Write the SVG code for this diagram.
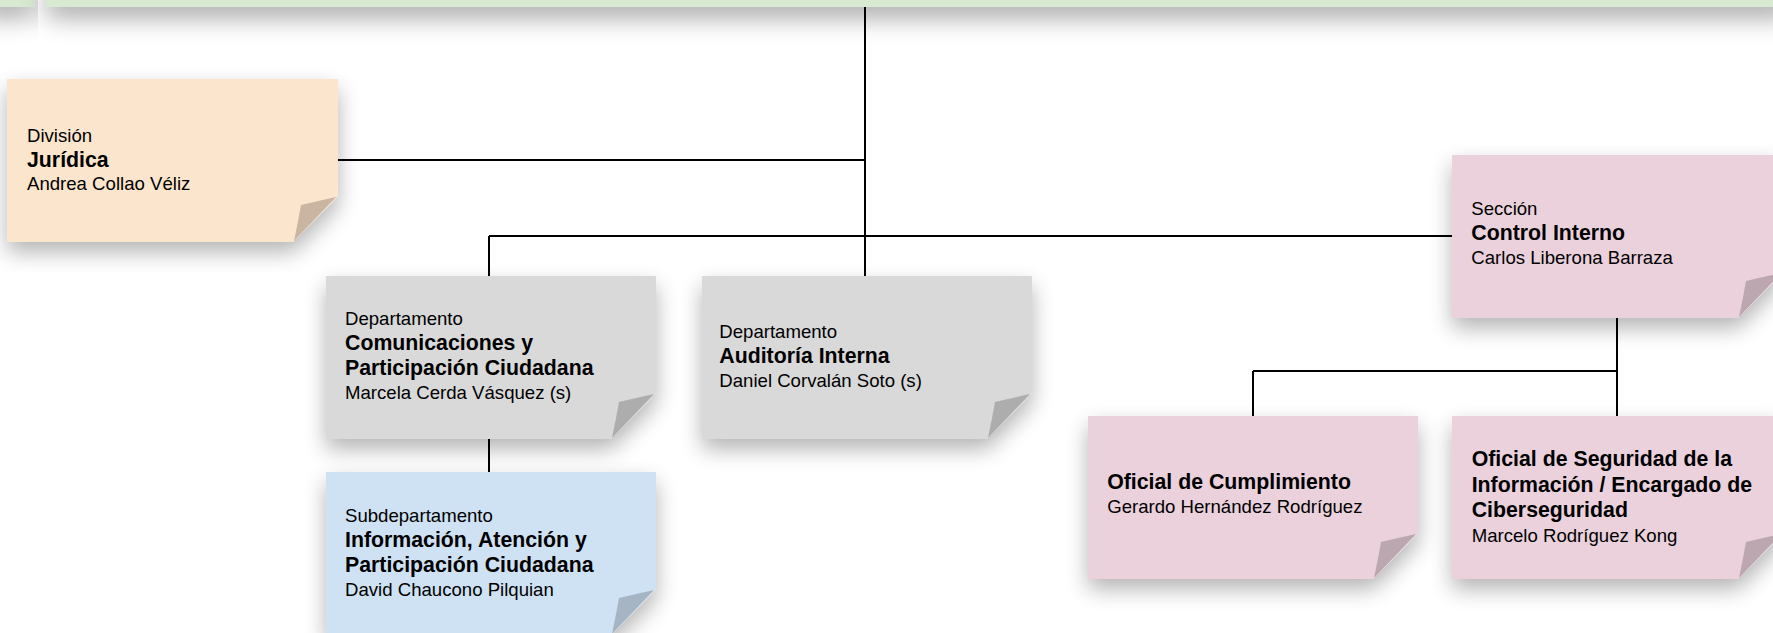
<svg xmlns="http://www.w3.org/2000/svg" width="1773" height="633" viewBox="0 0 1773 633">
<defs>
<filter id="sh" x="-15%" y="-25%" width="135%" height="170%">
<feGaussianBlur in="SourceAlpha" stdDeviation="11"/>
<feOffset dy="10"/>
<feComponentTransfer><feFuncA type="linear" slope="0.3"/></feComponentTransfer>
<feMerge><feMergeNode/><feMergeNode in="SourceGraphic"/></feMerge>
</filter>
<filter id="shTop" x="-5%" y="-50%" width="110%" height="500%">
<feGaussianBlur in="SourceAlpha" stdDeviation="13"/>
<feOffset dy="10"/>
<feComponentTransfer><feFuncA type="linear" slope="0.36"/></feComponentTransfer>
<feMerge><feMergeNode/><feMergeNode in="SourceGraphic"/></feMerge>
</filter>
</defs>
<style>
text{font-family:"Liberation Sans",Arial,sans-serif;fill:#000}
.lb{font-size:18.6px}
.b{font-size:21.3px;font-weight:bold}
.conn{stroke:#000;stroke-width:2;fill:none}
.peach{fill:#FCE5CD}.peachF{fill:#C9B5A1}
.gray{fill:#D9D9D9}.grayF{fill:#ADADAD}
.blue{fill:#CFE2F3}.blueF{fill:#A5B5C3}
.pink{fill:#EAD1DC}.pinkF{fill:#BCA7B1}
.green{fill:#D9EAD3}
</style>
<rect width="1773" height="633" fill="#fff"/>

<g id="top-left-cut">
<path class="green" filter="url(#shTop)" d="M-20,-20 H35 V4 Q35,7 32,7 H-20 Z"/>
</g>
<g id="top-node-cut">
<rect class="green" filter="url(#shTop)" x="46" y="-20" width="1747" height="27"/>
</g>

<g id="connectors">
<path class="conn" d="M865,7 V276"/>
<path class="conn" d="M338,160 H865"/>
<path class="conn" d="M489,236 H1452"/>
<path class="conn" d="M489,236 V276"/>
<path class="conn" d="M489,439 V472"/>
<path class="conn" d="M1617,318 V416"/>
<path class="conn" d="M1253,371 H1617"/>
<path class="conn" d="M1253,371 V416"/>
</g>

<g id="node-juridica">
<polygon class="peach" filter="url(#sh)" points="7,79 338,79 338,196 293,242 7,242"/>
<path class="peachF" d="M336,197 Q318,201 301,205 Q298,222 294,241 Z"/>
<text x="27" y="141.7" class="lb">División</text>
<text x="27" y="166.7" class="b">Jurídica</text>
<text x="27" y="189.7" class="lb">Andrea Collao Véliz</text>
</g>

<g id="node-comunicaciones">
<polygon class="gray" filter="url(#sh)" points="326,276 656,276 656,393 611,439 326,439"/>
<path class="grayF" d="M654,394 Q636,398 619,402 Q616,419 612,438 Z"/>
<text x="345" y="325.3" class="lb">Departamento</text>
<text x="345" y="350" class="b">Comunicaciones y</text>
<text x="345" y="375" class="b">Participación Ciudadana</text>
<text x="345" y="399.3" class="lb">Marcela Cerda Vásquez (s)</text>
</g>

<g id="node-auditoria">
<polygon class="gray" filter="url(#sh)" points="702,276 1032,276 1032,393 987,439 702,439"/>
<path class="grayF" d="M1030,394 Q1012,398 995,402 Q992,419 988,438 Z"/>
<text x="719.3" y="337.7" class="lb">Departamento</text>
<text x="719.3" y="362.7" class="b">Auditoría Interna</text>
<text x="719.3" y="386.7" class="lb">Daniel Corvalán Soto (s)</text>
</g>

<g id="node-informacion">
<polygon class="blue" filter="url(#sh)" points="326,472 656,472 656,589 611,635 326,635"/>
<path class="blueF" d="M654,590 Q636,594 619,598 Q616,615 612,634 Z"/>
<text x="345" y="521.7" class="lb">Subdepartamento</text>
<text x="345" y="547.3" class="b">Información, Atención y</text>
<text x="345" y="571.7" class="b">Participación Ciudadana</text>
<text x="345" y="596" class="lb">David Chaucono Pilquian</text>
</g>

<g id="node-control-interno">
<polygon class="pink" filter="url(#sh)" points="1452,155 1783,155 1783,272 1738,318 1452,318"/>
<path class="pinkF" d="M1781,273 Q1763,277 1746,281 Q1743,298 1739,317 Z"/>
<text x="1471.3" y="215.3" class="lb">Sección</text>
<text x="1471.3" y="240" class="b">Control Interno</text>
<text x="1471.3" y="263.5" class="lb">Carlos Liberona Barraza</text>
</g>

<g id="node-cumplimiento">
<polygon class="pink" filter="url(#sh)" points="1088,416 1418,416 1418,533 1373,579 1088,579"/>
<path class="pinkF" d="M1416,534 Q1398,538 1381,542 Q1378,559 1374,578 Z"/>
<text x="1107.2" y="489.3" class="b">Oficial de Cumplimiento</text>
<text x="1107.2" y="513.3" class="lb">Gerardo Hernández Rodríguez</text>
</g>

<g id="node-seguridad">
<polygon class="pink" filter="url(#sh)" points="1452,416 1783,416 1783,533 1738,579 1452,579"/>
<path class="pinkF" d="M1781,534 Q1763,538 1746,542 Q1743,559 1739,578 Z"/>
<text x="1471.7" y="465.7" class="b">Oficial de Seguridad de la</text>
<text x="1471.7" y="491.7" class="b">Información / Encargado de</text>
<text x="1471.7" y="516.7" class="b">Ciberseguridad</text>
<text x="1471.7" y="541.7" class="lb">Marcelo Rodríguez Kong</text>
</g>
</svg>
